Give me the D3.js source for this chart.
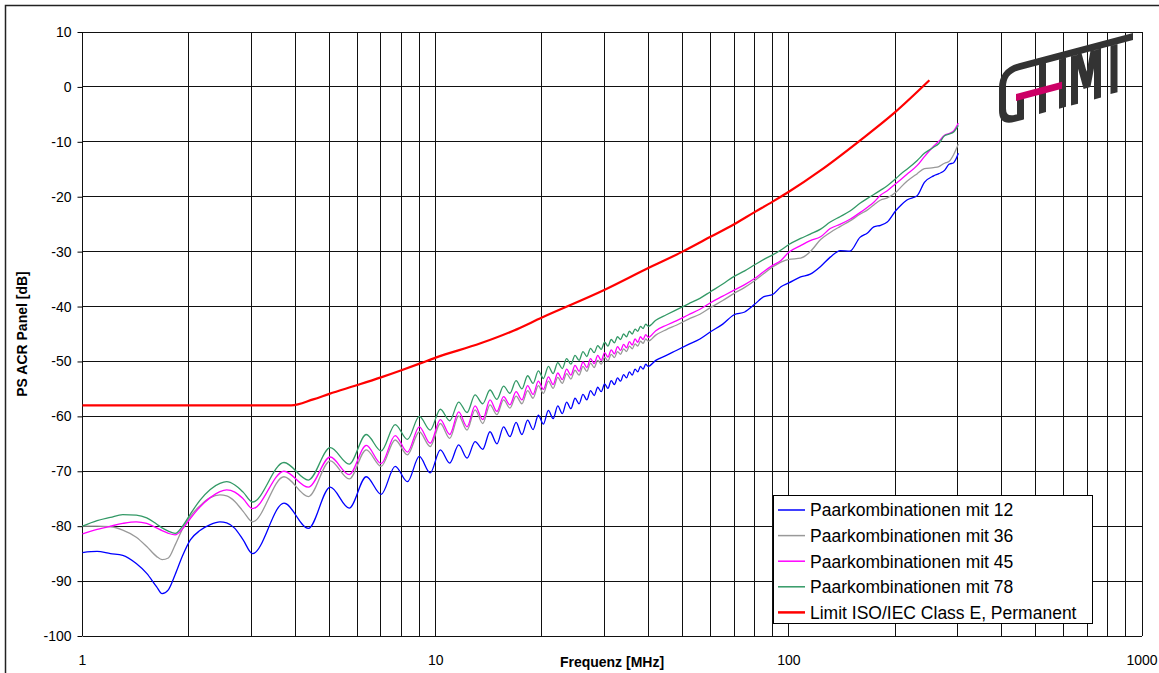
<!DOCTYPE html>
<html>
<head>
<meta charset="utf-8">
<title>PS ACR Panel</title>
<style>
body { margin: 0; background: #fff; }
text { font-family: "Liberation Sans", Arial, sans-serif; }
</style>
<script src="https://d3js.org/d3.v7.min.js"></script>
</head>
<body>
<svg id="chart" width="1159" height="673"></svg>
<script>
// frequency points in MHz, shared by the four measured series
const freqs = [
  1.0, 1.1, 1.2, 1.3, 1.42, 1.52, 1.62, 1.68, 1.75, 1.83, 1.92, 2.02, 2.15, 2.3, 2.45, 2.56, 2.7, 2.85,
  3.03, 3.72, 4.36, 5.03, 5.69, 6.36, 7.01, 7.68, 8.32, 8.99, 9.65, 10.31, 10.96, 11.62, 12.27, 12.93, 13.59, 14.25, 14.91, 15.57, 16.23, 16.89,
  17.55, 18.21, 18.87, 19.53, 20.19, 20.85, 21.51, 22.17, 22.83, 23.49, 24.15, 24.81, 25.47, 26.13, 26.79, 27.45, 28.11, 28.77, 29.43, 30.09,
  30.75, 31.41, 32.07, 32.73, 33.39, 34.05, 34.71, 35.37, 36.03, 36.69, 37.35, 38.01, 38.67, 39.33, 39.99,
  42, 45, 48, 52, 56, 60, 65, 70, 75, 80, 85, 90, 95, 100, 108, 115, 123, 131, 140, 149,
  159, 167, 174, 182, 190, 201, 208, 216, 231, 242, 257, 266, 276, 284, 293, 302
];

const pk12 = [
  -84.8, -84.6, -85.0, -85.3, -86.8, -88.6, -91.0, -92.3, -91.6, -88.8, -85.4, -82.5, -80.8, -79.7, -79.2, -79.4, -80.4, -82.5,
  -85.0, -75.8, -80.4, -72.9, -76.7, -71.0, -74.2, -69.1, -71.9, -67.3, -70.3, -66.1, -68.5, -65.2, -67.6, -64.6, -66.0, -62.8, -65.0, -61.9, -63.7, -61.1,
  -63.3, -60.7, -62.4, -59.8, -61.4, -58.9, -60.4, -58.1, -59.5, -57.4, -58.6, -56.7, -57.7, -56.0, -57.0, -55.3, -56.2, -54.7, -55.5, -54.1,
  -54.9, -53.5, -54.2, -53.0, -53.6, -52.4, -53.0, -51.9, -52.5, -51.4, -51.9, -50.9, -51.4, -50.5, -50.9,
  -49.8, -48.9, -48.0, -46.9, -45.9, -44.6, -43.2, -41.5, -41.0, -39.6, -38.2, -37.8, -36.4, -35.7, -34.6, -34.1, -32.7, -31.0, -29.8, -29.9,
  -27.4, -26.6, -25.5, -25.2, -24.6, -22.5, -21.5, -20.6, -19.8, -17.4, -16.2, -15.8, -15.2, -14.1, -13.8, -12.1
];

const pk36 = [
  -80.0, -80.0, -80.1, -80.7, -82.0, -83.7, -85.5, -86.1, -85.8, -83.4, -80.5, -78.2, -76.3, -74.8, -74.3, -74.5, -75.5, -77.3,
  -79.2, -71.0, -74.6, -68.1, -71.4, -66.1, -69.1, -64.3, -67.0, -62.8, -65.5, -61.3, -64.0, -59.9, -62.5, -58.8, -61.3, -57.9, -59.7, -57.0, -58.5, -56.3,
  -57.7, -55.3, -56.7, -54.4, -55.8, -53.6, -54.9, -52.9, -54.0, -52.2, -53.2, -51.6, -52.5, -50.9, -51.8, -50.3, -51.1, -49.8, -50.5, -49.2,
  -49.9, -48.7, -49.3, -48.2, -48.7, -47.7, -48.2, -47.2, -47.7, -46.8, -47.2, -46.3, -46.7, -45.9, -46.3,
  -45.2, -44.2, -43.4, -42.3, -41.4, -40.2, -38.9, -37.6, -36.5, -35.3, -34.0, -32.8, -31.9, -31.4, -31.2, -30.0, -27.8, -26.5, -25.4, -24.4,
  -23.2, -22.4, -21.5, -20.6, -20.2, -19.2, -18.2, -17.2, -15.8, -14.9, -14.7, -14.5, -13.9, -13.6, -12.3, -10.4
];

const pk45 = [
  -81.4, -80.6, -80.0, -79.5, -79.2, -79.5, -80.3, -80.8, -81.3, -81.6, -80.5, -78.6, -76.5, -74.8, -73.7, -73.4, -73.8, -75.0,
  -76.8, -70.0, -72.9, -67.4, -70.6, -65.3, -68.6, -63.5, -66.5, -61.9, -64.9, -60.6, -63.3, -59.2, -61.9, -58.1, -60.6, -57.0, -59.1, -56.4, -57.9, -55.5,
  -57.0, -54.4, -56.0, -53.6, -55.1, -52.8, -54.2, -52.1, -53.3, -51.4, -52.5, -50.7, -51.8, -50.1, -51.1, -49.5, -50.4, -48.9, -49.8, -48.4,
  -49.2, -47.9, -48.6, -47.3, -48.0, -46.9, -47.5, -46.4, -47.0, -45.9, -46.5, -45.5, -46.0, -45.1, -45.6,
  -44.4, -43.4, -42.6, -41.5, -40.5, -39.3, -38.1, -37.0, -36.0, -34.9, -33.6, -32.5, -31.6, -30.1, -28.9, -28.0, -27.3, -25.8, -25.0, -24.1,
  -22.9, -21.9, -21.0, -19.7, -18.9, -17.6, -16.8, -15.9, -14.3, -12.7, -10.8, -9.9, -8.8, -8.5, -8.0, -6.6
];

const pk78 = [
  -80.0, -79.0, -78.4, -77.9, -78.0, -78.5, -79.6, -80.3, -80.9, -81.3, -80.0, -77.8, -75.3, -73.3, -72.2, -71.9, -72.5, -73.8,
  -75.6, -68.4, -71.6, -65.7, -68.7, -63.3, -66.3, -61.5, -64.2, -60.0, -62.5, -58.7, -60.8, -57.4, -59.3, -56.1, -57.7, -55.2, -56.9, -54.5, -55.8, -53.5,
  -55.0, -52.6, -54.0, -51.7, -53.1, -50.9, -52.2, -50.2, -51.3, -49.5, -50.5, -48.9, -49.8, -48.2, -49.1, -47.6, -48.4, -47.1, -47.8, -46.5,
  -47.2, -46.0, -46.6, -45.5, -46.0, -45.0, -45.5, -44.5, -45.0, -44.1, -44.5, -43.6, -44.0, -43.2, -43.6,
  -42.5, -41.5, -40.6, -39.5, -38.5, -37.3, -35.9, -34.5, -33.5, -32.4, -31.4, -30.6, -29.7, -28.7, -27.6, -26.8, -25.9, -24.6, -23.6, -22.6,
  -21.2, -20.3, -19.6, -18.8, -18.0, -16.7, -15.8, -15.0, -13.4, -12.1, -11.0, -10.3, -8.9, -8.6, -8.2, -7.0
];

// limit line
const limitFreqs = [1, 3.9, 4.5, 5, 6, 7, 8, 9, 10, 13.4, 16.6, 20, 30, 40, 50, 60, 70, 80, 90, 100, 123, 158, 200, 250];
const limitVals = [-58, -58, -56.9, -55.9, -54.3, -52.9, -51.6, -50.4, -49.3, -46.7, -44.4, -42.0, -37.0, -33.0, -30.0, -27.3, -25.0, -22.8, -20.9, -19.1, -15.2, -9.9, -4.6, 1.2];

const yTicks = [-100, -90, -80, -70, -60, -50, -40, -30, -20, -10, 0, 10];
const xLabels = [1, 10, 100, 1000];
const seriesNames = ["Paarkombinationen mit 12", "Paarkombinationen mit 36", "Paarkombinationen mit 45",
                     "Paarkombinationen mit 78", "Limit ISO/IEC Class E, Permanent"];
const seriesColors = ["#0000ff", "#999999", "#ff00ff", "#339966", "#ff0000"];

const svg = d3.select("#chart");
const LEFT = 82.5, RIGHT = 1142, TOP = 32, BOTTOM = 636;

const xScale = d3.scaleLog().domain([1, 1000]).range([LEFT, RIGHT]);
const yScale = d3.scaleLinear().domain([-100, 10]).range([BOTTOM, TOP]);

// outer frame
svg.append("rect")
   .attr("x", 5.5).attr("y", 5.5)
   .attr("width", 1165).attr("height", 700)
   .style("fill", "none").style("stroke", "#222").style("stroke-width", 1.5);

// grid
const grid = svg.append("g").attr("shape-rendering", "crispEdges");
grid.selectAll(".vline").data(xScale.ticks()).join("line")
    .attr("class", "vline")
    .attr("x1", d => xScale(d)).attr("x2", d => xScale(d))
    .attr("y1", TOP).attr("y2", BOTTOM)
    .style("stroke", "#111").style("stroke-width", 1);
grid.selectAll(".hline").data(yTicks).join("line")
    .attr("class", "hline")
    .attr("x1", LEFT).attr("x2", RIGHT)
    .attr("y1", d => yScale(d)).attr("y2", d => yScale(d))
    .style("stroke", "#111").style("stroke-width", 1);

// y axis (plain hyphen minus, like the original)
const yAxis = d3.axisLeft(yScale).tickValues(yTicks).tickSize(5).tickPadding(6)
                .tickFormat(d => String(d));
svg.append("g")
   .attr("transform", `translate(${LEFT},0)`)
   .call(yAxis)
   .call(g => g.select(".domain").remove())
   .attr("font-family", "Liberation Sans, Arial, sans-serif")
   .attr("font-size", 14);

// x labels
svg.append("g").selectAll("text").data(xLabels).join("text")
   .attr("x", d => xScale(d)).attr("y", 665)
   .attr("text-anchor", "middle")
   .style("font-size", "14px")
   .text(d => d);

// axis titles
svg.append("text")
   .attr("x", 612).attr("y", 667)
   .attr("text-anchor", "middle")
   .style("font-size", "14px").style("font-weight", "bold")
   .text("Frequenz [MHz]");
svg.append("text")
   .attr("transform", "translate(27,334) rotate(-90)")
   .attr("text-anchor", "middle")
   .style("font-size", "14px").style("font-weight", "bold")
   .text("PS ACR Panel [dB]");

// logo (drawn in an unskewed frame, then slanted)
const logo = svg.append("g").attr("transform", "translate(999,68.5) skewY(-14.8)");
logo.append("path")
    .attr("d", "M134,3.5 L20,3.5 Q3.5,3.5 3.5,20 L3.5,42 Q3.5,54 16,54 L25,54 M21.5,33 L21.5,57 " +
               "M43.5,7 L43.5,56 M63.5,7 L63.5,56 M75.5,7 L75.5,56 M98.5,7 L98.5,56 M79,7 L88,42 L95,7 M115,7 L115,55")
    .style("fill", "none").style("stroke", "#333").style("stroke-width", 7);
logo.append("rect")
    .attr("x", 17).attr("y", 30).attr("width", 46).attr("height", 7)
    .style("fill", "#cc0066");

// measured series
const seriesData = [pk12, pk36, pk45, pk78];
const line = d3.line()
               .x(d => xScale(d[0]))
               .y(d => yScale(d[1]))
               .curve(d3.curveMonotoneX);

seriesData.forEach((vals, i) => {
    svg.append("path")
       .datum(freqs.map((f, j) => [f, vals[j]]))
       .style("fill", "none")
       .style("stroke", seriesColors[i])
       .style("stroke-width", 1.3)
       .attr("d", line);
});

svg.append("path")
   .datum(limitFreqs.map((f, j) => [f, limitVals[j]]))
   .style("fill", "none")
   .style("stroke", seriesColors[4])
   .style("stroke-width", 2.2)
   .attr("d", line);

// legend
const legend = svg.append("g");
legend.append("rect")
      .attr("x", 773.5).attr("y", 495.5)
      .attr("width", 319).attr("height", 128)
      .style("fill", "#fff").style("stroke", "#000").style("stroke-width", 1);
seriesNames.forEach((name, i) => {
    const y = 510 + i * 25.6;
    legend.append("line")
          .attr("x1", 778).attr("x2", 805)
          .attr("y1", y).attr("y2", y)
          .style("stroke", seriesColors[i])
          .style("stroke-width", i == 4 ? 2.5 : 1.5);
    legend.append("text")
          .attr("x", 810).attr("y", y)
          .attr("dy", "0.36em")
          .style("font-size", "17.5px")
          .text(name);
});
</script>
</body>
</html>
